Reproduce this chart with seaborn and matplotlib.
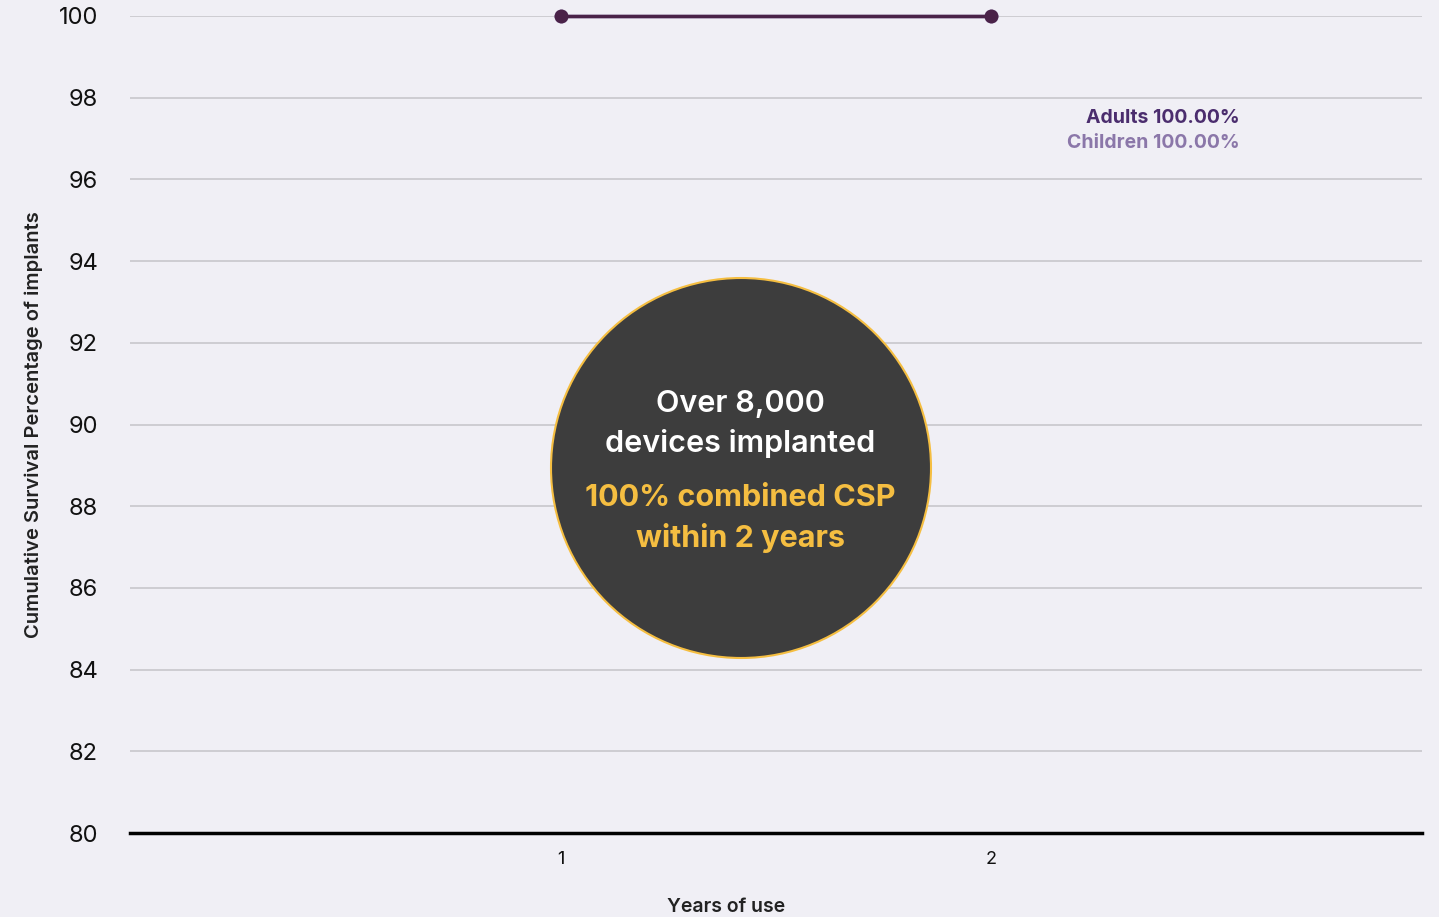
import matplotlib
matplotlib.use("Agg")
import matplotlib.pyplot as plt
from matplotlib.patches import Ellipse
import seaborn as sns
import pandas as pd

years = [1, 2]
adults = [100.0, 100.0]
children = [100.0, 100.0]
y_ticks = [80, 82, 84, 86, 88, 90, 92, 94, 96, 98, 100]
x_ticks = [1, 2]
legend_labels = ["Adults 100.00%", "Children 100.00%"]
circle_lines_white = ["Over 8,000", "devices implanted"]
circle_lines_yellow = ["100% combined CSP", "within 2 years"]

bg = "#f0eff5"
sns.set_theme(style="white")
plt.rcParams["font.family"] = ["Inter", "DejaVu Sans"]

fig = plt.figure(figsize=(14.39, 9.17), dpi=100, facecolor=bg)
ax = fig.add_axes([130/1439, 1-833/917, 1292/1439, 817/917])
ax.set_facecolor(bg)

df = pd.DataFrame({
    "Years": years + years,
    "CSP": children + adults,
    "Group": ["Children"]*len(years) + ["Adults"]*len(years),
})
sns.lineplot(data=df, x="Years", y="CSP", hue="Group",
             palette={"Children": "#8b77a9", "Adults": "#4a2248"},
             marker="o", markersize=10, markeredgewidth=0, linewidth=2.5,
             legend=False, ax=ax, zorder=5, clip_on=False)

ax.set_xlim(0, 3)
ax.set_ylim(80, 100)
ax.set_yticks(y_ticks)
ax.set_xticks(x_ticks)
ax.set_yticklabels([str(t) for t in y_ticks], fontsize=17, color="#111111")
ax.set_xticklabels([str(t) for t in x_ticks], fontsize=13, color="#111111")
ax.tick_params(axis="y", length=0, pad=23)
ax.tick_params(axis="x", length=0, pad=13)
ax.grid(axis="y", color="#c4c3c8", linewidth=1.1)
ax.grid(axis="x", visible=False)
for s in ["top", "right", "left"]:
    ax.spines[s].set_visible(False)
ax.spines["bottom"].set_color("#000000")
ax.spines["bottom"].set_linewidth(2.5)
ax.spines["bottom"].set_zorder(6)

ax.set_xlabel("Years of use", fontsize=14, fontweight="semibold", color="#222222")
ax.set_ylabel("Cumulative Survival Percentage of implants", fontsize=14.5,
              fontweight="semibold", color="#222222")
ax.yaxis.set_label_coords(-0.067, 0.5)
ax.xaxis.set_label_coords(0.461, -0.080)

fig.text(1240/1439, 1-118/917, legend_labels[0], ha="right", va="center",
         fontsize=14, fontweight="bold", color="#4b2d6e")
fig.text(1240/1439, 1-143/917, legend_labels[1], ha="right", va="center",
         fontsize=14, fontweight="bold", color="#8b77a9")

circ = Ellipse((741/1439, 1-468/917), 380/1439, 380/917, transform=fig.transFigure,
               facecolor="#3d3d3d", edgecolor="#f5be41", linewidth=1.5, zorder=10)
fig.patches.append(circ)

for txt, ypx in zip(circle_lines_white, [404, 444]):
    fig.text(740/1439, 1-ypx/917, txt, ha="center", va="center", fontsize=22,
             fontweight="semibold", color="white", zorder=11)
for txt, ypx in zip(circle_lines_yellow, [498, 538]):
    fig.text(740/1439, 1-ypx/917, txt, ha="center", va="center", fontsize=22,
             fontweight="bold", color="#f5be41", zorder=11)

fig.savefig("out.png", dpi=100, facecolor=bg)
